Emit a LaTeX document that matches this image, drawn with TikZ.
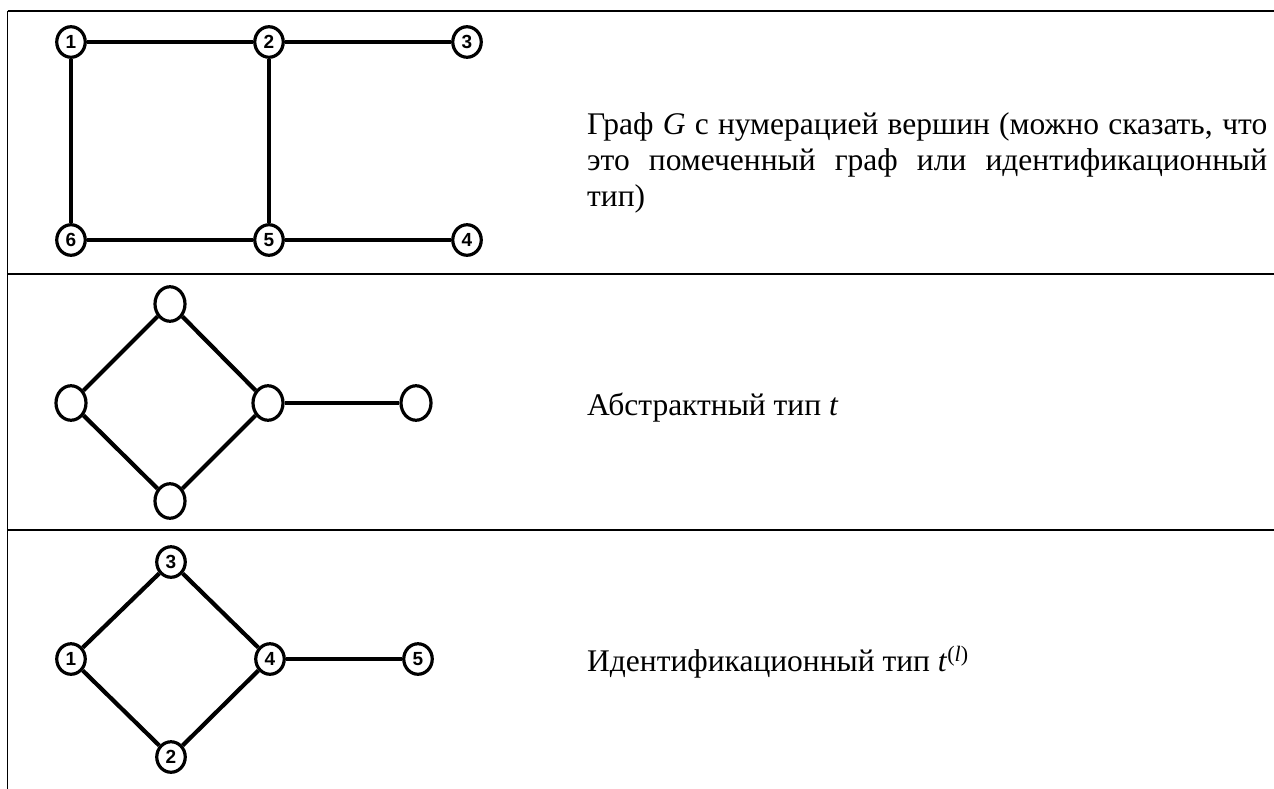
\documentclass[tikz,border=0pt]{standalone}
\usepackage{fontspec}
\setmainfont{Liberation Serif}
\newfontfamily\nodefont{Liberation Sans}
\usetikzlibrary{shapes.geometric}
\begin{document}
\begin{tikzpicture}[x=1pt,y=-1pt,
  vnum/.style={ellipse, draw, line width=3.2pt, fill=white, minimum width=28.5pt, minimum height=30.5pt, inner sep=0pt,
    font=\nodefont\bfseries\fontsize{19}{19}\selectfont},
  vblank/.style={ellipse, draw, line width=3.2pt, fill=white, minimum width=30pt, minimum height=34.5pt, inner sep=0pt},
  gedge/.style={line width=4.2pt},
  tablerule/.style={line width=1.6pt},
  desc/.style={anchor=base west, inner sep=0pt, font=\fontsize{31.5}{35.5}\selectfont},
]
\useasboundingbox (0,0) rectangle (1274,789);
% table rules
\coordinate (tl) at (7.5,11);
\coordinate (tr) at (1274,11);
\coordinate (bl) at (7.5,789);
\coordinate (r1l) at (7.5,274);
\coordinate (r1r) at (1274,274);
\coordinate (r2l) at (7.5,530);
\coordinate (r2r) at (1274,530);
\draw[tablerule] (tl) -- (tr);
\draw[tablerule] (r1l) -- (r1r);
\draw[tablerule] (r2l) -- (r2r);
\draw[tablerule] (tl) -- (bl);

% graph G
\node[vnum] (a1) at (71,42) {1};
\node[vnum] (a2) at (269,42) {2};
\node[vnum] (a3) at (467,42) {3};
\node[vnum] (a6) at (71,240) {6};
\node[vnum] (a5) at (269,240) {5};
\node[vnum] (a4) at (467,240) {4};
\draw[gedge] (a1) -- (a2);
\draw[gedge] (a2) -- (a3);
\draw[gedge] (a1) -- (a6);
\draw[gedge] (a2) -- (a5);
\draw[gedge] (a6) -- (a5);
\draw[gedge] (a5) -- (a4);

% abstract type
\node[vblank] (b1) at (170,304) {};
\node[vblank] (b2) at (71,403) {};
\node[vblank] (b3) at (268,403) {};
\node[vblank] (b4) at (416,403) {};
\node[vblank] (b5) at (170,501) {};
\draw[gedge] (b1) -- (b2);
\draw[gedge] (b1) -- (b3);
\draw[gedge] (b2) -- (b5);
\draw[gedge] (b3) -- (b5);
\draw[gedge] (b3) -- (b4);

% identification type
\node[vnum] (c3) at (171,562) {3};
\node[vnum] (c1) at (71,659) {1};
\node[vnum] (c4) at (270,659) {4};
\node[vnum] (c5) at (418,659) {5};
\node[vnum] (c2) at (171,757) {2};
\draw[gedge] (c3) -- (c1);
\draw[gedge] (c3) -- (c4);
\draw[gedge] (c1) -- (c2);
\draw[gedge] (c4) -- (c2);
\draw[gedge] (c4) -- (c5);

% texts
\node[desc] (t1a) at (587,135)
  {\makebox[680pt][s]{Граф \textit{G} с нумерацией вершин (можно сказать, что}};
\node[desc] (t1b) at (587,170.5)
  {\makebox[680pt][s]{это помеченный граф или идентификационный}};
\node[desc] (t1c) at (587,206) {тип)};
\node[desc] (t2) at (587,415) {Абстрактный тип \textit{t}};
\node[desc] (t3) at (587,671) {Идентификационный тип \textit{t}\textsuperscript{(\textit{l})}};
\end{tikzpicture}
\end{document}
